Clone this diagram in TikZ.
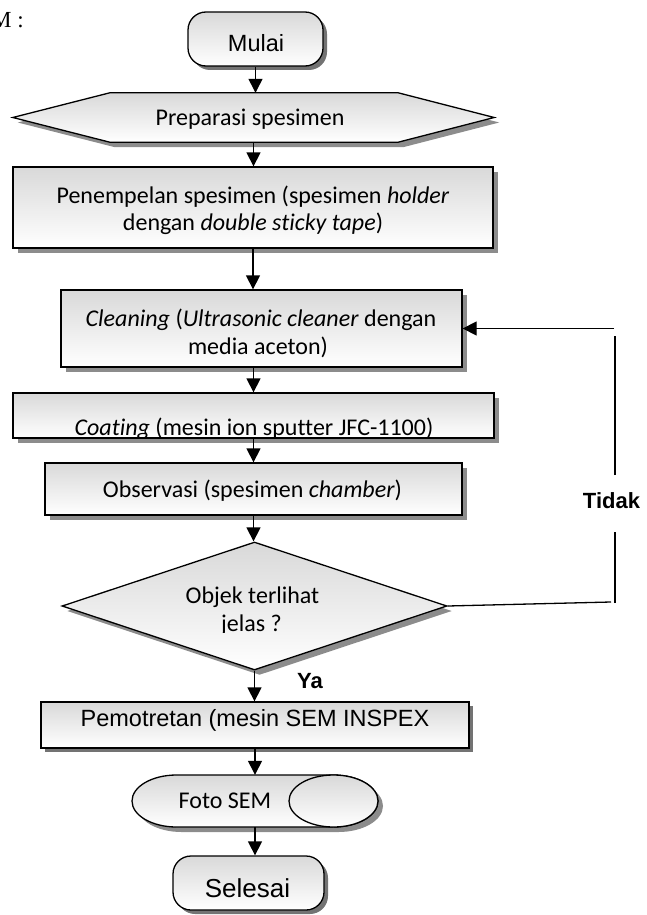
\documentclass[tikz,border=0pt]{standalone}
\usepackage{fontspec}
\setmainfont{Carlito}[Ligatures=NoCommon]
\newfontfamily\arialf{Liberation Sans}
\newfontfamily\timesf{Liberation Serif}
\usetikzlibrary{arrows.meta,shapes.geometric,shadows}

\tikzset{
  flow/.style={draw=black, line width=1.3pt, top color=black!15, bottom color=white},
  hatchshadow/.style={drop shadow={shadow xshift=5pt, shadow yshift=-5pt, fill=black!45, opacity=1}},
  solidshadow/.style={drop shadow={shadow xshift=4pt, shadow yshift=-4pt, fill=black!55, opacity=1}},
  boxnode/.style={flow, hatchshadow, rectangle, inner sep=0pt},
  pill/.style={flow, solidshadow, rectangle, rounded corners=18pt, inner sep=0pt},
  anchorbox/.style={rectangle, inner sep=0pt, draw=none, fill=none},
  link/.style={line width=1.3pt, -{Triangle[length=14pt,width=14pt]}},
  plainline/.style={line width=1.3pt},
  body/.style={anchor=base, inner sep=0pt, font=\fontsize{24}{29}\selectfont},
  sans/.style={anchor=base, inner sep=0pt, font=\arialf\fontsize{23.5}{28}\selectfont},
  answer/.style={anchor=base, inner sep=0pt, font=\arialf\bfseries\fontsize{22}{26}\selectfont},
}

\begin{document}
\begin{tikzpicture}[x=1pt, y=-1pt]
\useasboundingbox (0,0) rectangle (646,915);

% heading fragment at the top left
\node[anchor=base east, inner sep=0pt, font=\timesf\fontsize{23}{27}\selectfont] (head) at (24,28) {M :};

% terminal: start
\node[pill, minimum width=135pt, minimum height=54pt] (mulai) at (255.5,39) {};
\node[sans] (mulaitxt) at (256,52) {Mulai};

% preparation (hexagon)
\node[anchorbox, minimum width=481pt, minimum height=49pt] (prep) at (253.5,117.5) {};
\path[flow, hatchshadow] (prep.west) -- ([xshift=97pt]prep.north west) -- ([xshift=-96pt]prep.north east)
  -- (prep.east) -- ([xshift=-96pt]prep.south east) -- ([xshift=97pt]prep.south west) -- cycle;
\node[body] (preptxt) at (250,125) {Preparasi spesimen};

% process boxes
\node[boxnode, minimum width=480pt, minimum height=81pt] (pen) at (253,207.5) {};
\node[body] (pen1) at (253,203) {Penempelan spesimen (spesimen \textit{holder}};
\node[body] (pen2) at (253,230) {dengan \textit{double sticky tape})};

\node[boxnode, minimum width=401pt, minimum height=77pt] (clean) at (261.5,328.5) {};
\node[body] (clean1) at (261,326) {\textit{Cleaning} (\textit{Ultrasonic cleaner} dengan};
\node[body] (clean2) at (258,354) {media aceton)};

\node[boxnode, minimum width=481pt, minimum height=45pt] (coat) at (253.5,415.5) {};
\begin{scope}
  \clip (0,380) rectangle (646,436);
  \node[body] (coattxt) at (254,435) {\textit{Coating} (mesin ion sputter JFC-1100)};
\end{scope}

\node[boxnode, minimum width=417pt, minimum height=52pt] (obs) at (253.5,489) {};
\node[body] (obstxt) at (252.5,497) {Observasi (spesimen \textit{chamber})};

% decision
\node[flow, hatchshadow, diamond, inner sep=0pt, minimum width=385pt, minimum height=128pt] (diam) at (254.5,606) {};
\node[body] (diam1) at (252.5,603) {Objek terlihat};
\begin{scope}
  \clip (0,600) rectangle (646,632);
  \node[body] (diam2) at (251.5,631) {jelas ?};
\end{scope}

% photographing
\node[flow, solidshadow, rectangle, inner sep=0pt, minimum width=428pt, minimum height=46pt] (pem) at (255,725) {};
\node[sans] (pemtxt) at (255,726) {Pemotretan (mesin SEM INSPEX};

% stored data (horizontal cylinder)
\node[anchorbox, minimum width=246pt, minimum height=52pt] (foto) at (255,801) {};
\path[flow, hatchshadow] (176.5,775) -- (333.5,775)
  arc[start angle=90, end angle=-90, x radius=44.5pt, y radius=26pt]
  -- (176.5,827)
  arc[start angle=270, end angle=90, x radius=44.5pt, y radius=26pt] -- cycle;
\path[flow] (333.5,801) ellipse[x radius=44.5pt, y radius=26pt];
\node[body] (fototxt) at (225,808) {Foto SEM};

% terminal: end
\node[pill, minimum width=151pt, minimum height=54pt] (sel) at (248.5,883) {};
\node[anchor=base, inner sep=0pt, font=\arialf\fontsize{26}{30}\selectfont] (seltxt) at (247.5,897) {Selesai};

% main flow connectors
\draw[link] (mulai.south) -- (mulai.south |- prep.north);
\draw[link] (prep.south) -- (prep.south |- pen.north);
\draw[link] (pen.south) -- (pen.south |- clean.north);
\draw[link] (coat.north |- clean.south) -- (coat.north);
\draw[link] (coat.south) -- (coat.south |- obs.north);
\draw[link] (obs.south) -- (obs.south |- diam.north);
\draw[link] (diam.south) -- (diam.south |- pem.north);
\draw[link] (pem.south) -- (foto.north);
\draw[link] (foto.south) -- (foto.south |- sel.north);

% feedback loop (No branch)
\coordinate (fbin) at (614,328.5);
\coordinate (fbtop) at (615,336);
\coordinate (fbmid1) at (615,475);
\coordinate (fbmid2) at (615,532);
\coordinate (fbbot) at (615,603);
\coordinate (fbcorner) at (611,602);
\draw[plainline] (diam.east) -- (fbcorner);
\draw[plainline] (fbbot) -- (fbmid2);
\draw[plainline] (fbmid1) -- (fbtop);
\draw[link] (fbin) -- (clean.east);

% branch labels
\node[answer] (tidak) at (611.5,508) {Tidak};
\node[answer, anchor=base west] (ya) at (297,688) {Ya};
\end{tikzpicture}
\end{document}
